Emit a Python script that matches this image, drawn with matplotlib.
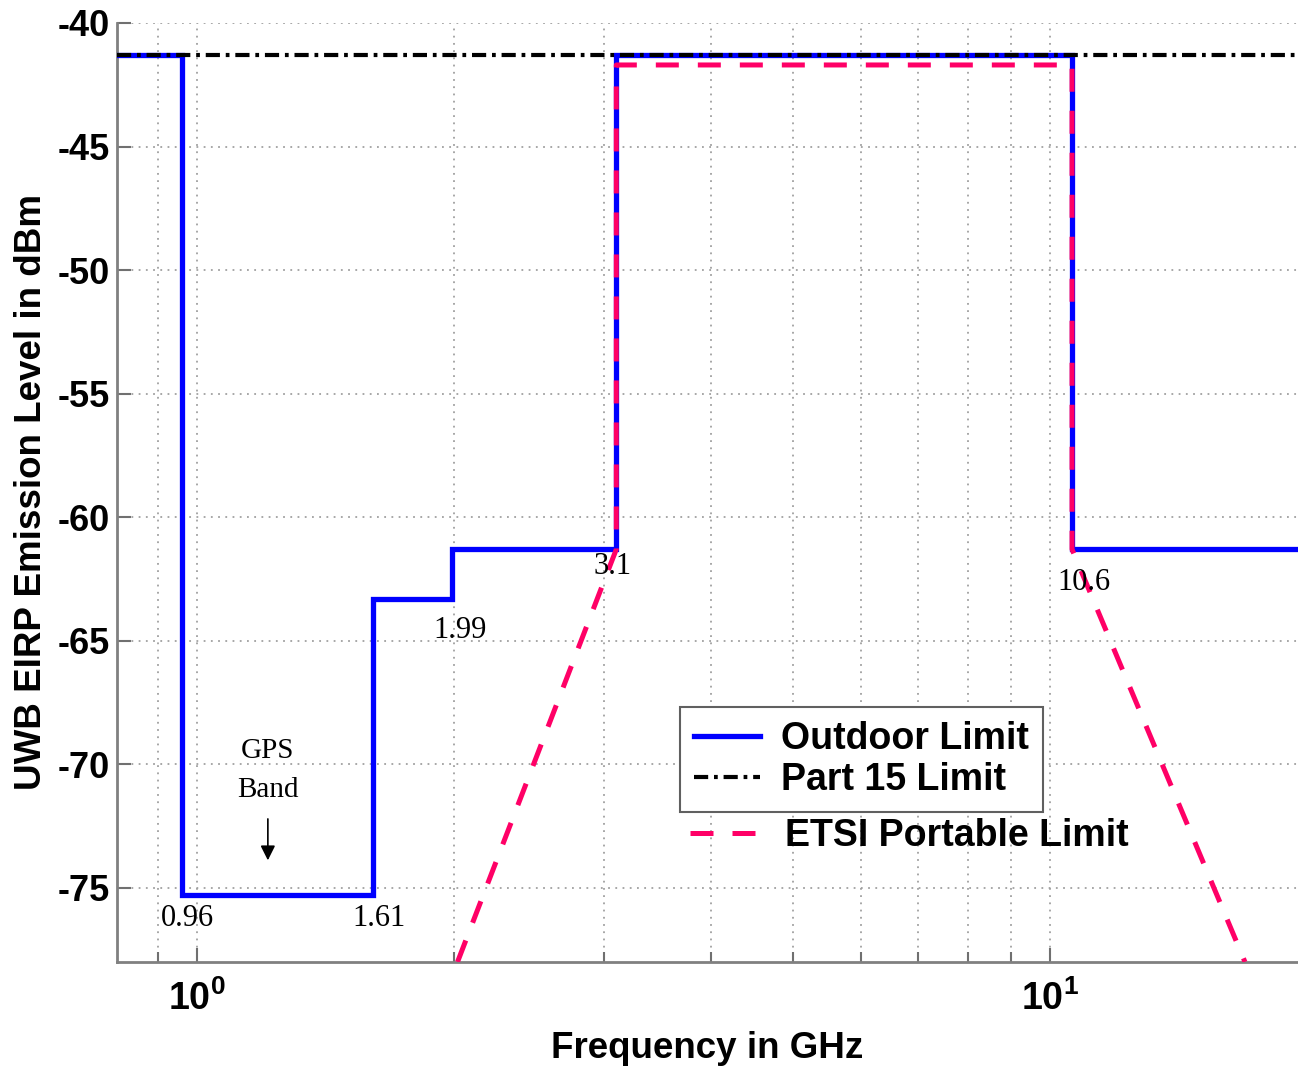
import numpy as np
import matplotlib
matplotlib.use("Agg")
import matplotlib.pyplot as plt
from matplotlib.lines import Line2D

plt.rcParams['font.family'] = ['Liberation Sans', 'DejaVu Sans']
plt.rcParams['mathtext.fontset'] = 'custom'
plt.rcParams['mathtext.bf'] = 'Liberation Sans:bold'
plt.rcParams['mathtext.rm'] = 'Liberation Sans:bold'

# ============================================================================
# Data (GHz / dBm)
# ============================================================================
outdoor_edges = [0.8, 0.96, 1.61, 1.99, 3.1, 10.6, 20.0]
outdoor_level = [-41.3, -75.3, -63.3, -61.3, -41.3, -61.3]

part15_level = -41.3

etsi_freq = [2.02, 3.1, 3.1, 10.6, 10.6, 16.9]
etsi_level = [-78.0, -61.3, -41.7, -41.7, -61.3, -78.0]

# corner labels: text, freq, level
corner_labels = [("0.96", 0.976, -76.25),
                 ("1.61", 1.635, -76.25),
                 ("1.99", 2.034, -64.6),
                 ("3.1", 3.066, -62.0),
                 ("10.6", 10.96, -62.65)]

gps_x = 1.211
y_ticks = [-40, -45, -50, -55, -60, -65, -70, -75]

# ============================================================================
# Figure
# ============================================================================
fig = plt.figure(figsize=(12.98, 10.68), dpi=100)
ax = fig.add_axes([0.0901, 0.0993, 0.9099, 0.8792])

ax.stairs(outdoor_level, outdoor_edges, baseline=None, color='#0000ff',
          linewidth=3.8, zorder=3, label='Outdoor Limit')
ax.plot(etsi_freq, etsi_level, color='#ff0066', linewidth=3.6,
        linestyle=(0, (4.6, 3.8)), zorder=4)
ax.axhline(part15_level, color='black', linewidth=3.0,
           linestyle=(0, (3.4, 1.4, 0.9, 1.4)), zorder=5, label='Part 15 Limit')

ax.set_xscale('log')
ax.set_xlim(0.806, 19.5)
ax.set_ylim(-78, -40)

ax.set_yticks(y_ticks)
ax.set_yticklabels([str(v) for v in y_ticks], fontsize=26, fontweight='bold')
ax.set_xticks([1, 10])
ax.set_xticklabels([r'$\mathbf{10^{0}}$', r'$\mathbf{10^{1}}$'], fontsize=27)
ax.xaxis.set_minor_locator(matplotlib.ticker.LogLocator(base=10, subs=np.arange(2, 10)))
ax.xaxis.set_minor_formatter(matplotlib.ticker.NullFormatter())

ax.tick_params(which='both', direction='in', color='#707070', width=1.5)
ax.tick_params(which='major', length=10)
ax.tick_params(which='minor', length=7)
ax.tick_params(axis='x', which='major', pad=13)
ax.tick_params(axis='y', pad=5)

for side in ['top', 'right']:
    ax.spines[side].set_visible(False)
for side in ['left', 'bottom']:
    ax.spines[side].set_color('#808080')
    ax.spines[side].set_linewidth(2)

ax.grid(which='major', linestyle=(0, (1, 3)), color='#a0a0a0', linewidth=1.3)
ax.grid(which='minor', axis='x', linestyle=(0, (1, 3)), color='#a0a0a0', linewidth=1.3)

ax.set_xlabel('Frequency in GHz', fontsize=26.5, fontweight='bold', labelpad=10)
ax.set_ylabel('UWB EIRP Emission Level in dBm', fontsize=26.5, fontweight='bold', labelpad=6)

for txt, fx, fy in corner_labels:
    ax.text(fx, fy, txt, fontsize=22, family='Liberation Serif',
            ha='center', va='center', zorder=6)

ax.text(gps_x, -69.45, 'GPS', fontsize=21, family='Liberation Serif', ha='center', va='center')
ax.text(gps_x, -71.05, 'Band', fontsize=21, family='Liberation Serif', ha='center', va='center')
ax.annotate('', xy=(gps_x, -74.0), xytext=(gps_x, -72.1),
            arrowprops=dict(arrowstyle='-|>', color='black', lw=1.2, mutation_scale=22))

leg1 = ax.legend(loc='upper left', bbox_to_anchor=(0.524, 0.338),
                 bbox_transform=fig.transFigure, borderaxespad=0,
                 prop={'size': 27, 'weight': 'bold'}, fancybox=False,
                 edgecolor='#606060', framealpha=1, handlelength=1.75,
                 handletextpad=0.55, labelspacing=0.12, borderpad=0.38)
leg1.get_frame().set_linewidth(1.5)
ax.add_artist(leg1)

etsi_handle = Line2D([], [], color='#ff0066', linewidth=3.6, linestyle=(0, (4.6, 3.8)))
ax.legend([etsi_handle], ['ETSI Portable Limit'], loc='upper left',
          bbox_to_anchor=(0.524, 0.243), bbox_transform=fig.transFigure,
          borderaxespad=0, frameon=False, prop={'size': 27, 'weight': 'bold'},
          handlelength=1.75, handletextpad=0.8, borderpad=0.25)

fig.savefig('out.png', dpi=100)
